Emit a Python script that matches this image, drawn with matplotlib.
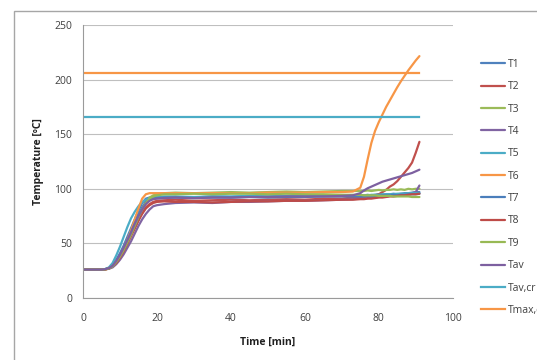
import matplotlib
matplotlib.use("Agg")
import matplotlib.pyplot as plt
from matplotlib.patches import Rectangle

# time grid [min]
time = [0, 5, 6, 7, 8, 9, 10, 11, 12, 13, 14, 15, 16, 17, 18, 19, 20,
        22, 25, 30, 35, 40, 45, 50, 55, 60, 65, 70, 73,
        75, 76, 77, 78, 79, 80, 81, 82, 83, 84, 85, 86, 87, 88, 89, 90, 91]

T1 = [26, 26, 26.5, 27.5, 30, 35, 41, 48, 56, 64, 72, 80, 87, 91, 92, 92, 92,
      92, 92.5, 92, 93, 92.5, 93, 93, 93.5, 93, 94, 94, 94,
      94, 94, 94.5, 94, 94.5, 95, 94.5, 95, 95, 95.5, 95, 95.5, 96, 96, 96.5, 97, 97]
T2 = [26, 26, 26.3, 27, 29, 33, 38, 44, 50, 57, 64, 71, 78, 83, 86, 88, 89,
      89.5, 90, 89, 89.5, 90, 89.5, 90, 90.5, 90, 91, 91, 92,
      92, 92.5, 93, 93.5, 94, 95, 97, 99, 102, 104, 107, 111, 115, 119, 124, 133, 143]
T3 = [26, 26, 26.3, 27, 29, 33, 38, 44, 51, 59, 67, 75, 82, 88, 92, 94, 95,
      96, 96.5, 96, 96.5, 97, 96.5, 97, 97.5, 97, 97.5, 98, 98,
      98, 98, 98.5, 98, 98.5, 99, 98.5, 99, 99, 99.5, 99, 99.5, 99, 100, 99.5, 100, 100]
T4 = [26, 26, 26.2, 26.8, 28, 31, 35, 40, 46, 52, 59, 66, 72, 77, 81, 84, 85,
      86, 87, 87.5, 87, 88, 88, 88.5, 89, 89, 89.5, 90, 90.5,
      91, 91, 91.5, 92, 92, 92.5, 93, 93, 93.5, 94, 94, 94.5, 95, 95.5, 96, 97, 103]
T5 = [26, 26, 26.5, 28, 32, 39, 47, 56, 65, 73, 79, 84, 88, 90, 91, 92, 92.5,
      93, 93, 92.5, 93, 93, 93.5, 93, 93.5, 93.5, 93.5, 94, 94,
      94, 94, 94, 94.5, 94.5, 94.5, 95, 95, 95, 95, 95.5, 95.5, 95.5, 96, 96, 96, 96]
T6 = [26, 26, 26, 27, 29, 33, 38, 45, 53, 62, 72, 82, 91, 95, 96, 96, 96,
      96, 96, 96, 96, 96, 96, 96.5, 96.5, 96.5, 97, 97, 97.5,
      101, 111, 127, 142, 153, 161, 168, 175, 181, 187, 193, 198.5, 203.5, 208.5, 213, 217.5, 221.5]
T7 = [26, 26, 26.4, 27.3, 29, 33, 38, 45, 52, 60, 68, 76, 83, 88, 90, 91, 91.5,
      92, 92, 91.5, 92, 92, 92.5, 92, 92.5, 92.5, 93, 93, 93,
      93, 93, 93.5, 93, 93.5, 93.5, 94, 94, 94, 94.5, 94, 94.5, 94.5, 95, 95, 95, 95.5]
T8 = [26, 26, 26.3, 27, 29, 32, 37, 43, 50, 57, 64, 71, 77, 82, 85, 87, 88,
      88.5, 88, 88, 87.5, 88, 88.5, 88.5, 89, 89, 89.5, 90, 90,
      90.5, 90.5, 91, 91, 91.5, 92, 92, 92.5, 93, 93, 93.5, 94, 94, 94.5, 95, 95, 95.5]
T9 = [26, 26, 26.3, 27, 29, 33, 38, 44, 51, 58, 66, 74, 81, 87, 91, 93, 94,
      95, 95, 95.5, 95, 95.5, 95.5, 95, 95.5, 95, 95, 94.5, 94.5,
      94.5, 94, 94, 94, 94, 93.5, 93.5, 93.5, 93.5, 93, 93, 93, 93, 93, 92.5, 92.5, 92.5]
Tav = [26, 26, 26.4, 27.3, 29.5, 34, 39.5, 46, 53, 60, 68, 75, 81, 86, 89, 90.5, 91,
       91.5, 92, 91.5, 92, 92, 92.5, 92.5, 93, 93, 93, 93.5, 94,
       96, 98.5, 100.5, 102, 103.5, 105, 106.5, 107.5, 108.5, 109.5, 110.5, 111.5,
       112.5, 113.5, 114.5, 116, 117.5]

crit_time = [0, 91]
Tav_cr = [166, 166]
Tmax_cr = [206, 206]

series_names = ["T1", "T2", "T3", "T4", "T5", "T6", "T7", "T8", "T9", "Tav"]
series_vals = [T1, T2, T3, T4, T5, T6, T7, T8, T9, Tav]
series_colors = ["#4F81BD", "#C0504D", "#9BBB59", "#8064A2", "#4BACC6", "#F79646",
                 "#4A7EBB", "#BE4B48", "#98B954", "#7D60A0"]

x_ticks = [0, 20, 40, 60, 80, 100]
y_ticks = [0, 50, 100, 150, 200, 250]

W, H = 537, 360
fig = plt.figure(figsize=(W / 100, H / 100), dpi=100)
plt.rcParams['font.family'] = ['Open Sans', 'DejaVu Sans']

# outer chart frame
fig.patches.append(Rectangle((14 / W, -0.1), 1.2, 1.1 - 11 / H,
                             transform=fig.transFigure, fill=False,
                             edgecolor="#a6a6a6", linewidth=1.0))

ax = fig.add_axes([83 / W, 1 - 298 / H, (452.7 - 83) / W, (298 - 25) / H])

for name, vals, col in zip(series_names, series_vals, series_colors):
    ax.plot(time, vals, color=col, lw=1.6, label=name, solid_capstyle='round')
ax.plot(crit_time, Tav_cr, color="#4BACC6", lw=1.6, label="Tav,cr")
ax.plot(crit_time, Tmax_cr, color="#F79646", lw=1.6, label="Tmax,cr")

ax.set_xlim(0, 100)
ax.set_ylim(0, 250)
ax.set_xticks(x_ticks)
ax.set_yticks(y_ticks)
ax.grid(axis='y', color="#bfbfbf", lw=0.8)
ax.set_axisbelow(True)
for s in ["top", "right"]:
    ax.spines[s].set_visible(False)
for s in ["left", "bottom"]:
    ax.spines[s].set_color("#9a9a9a")
    ax.spines[s].set_linewidth(0.8)
ax.tick_params(length=0, labelsize=7.5, colors="#404040", pad=8)
ax.tick_params(axis='x', pad=11)

ax.set_xlabel("Time [min]", fontsize=7.5, fontweight='bold', color="#202020")
ax.set_ylabel("Temperature [ºC]", fontsize=7.5, fontweight='bold', color="#202020")
ax.xaxis.set_label_coords((268 - 83) / (452.7 - 83), (298 - 337) / (298 - 25))
ax.yaxis.set_label_coords((44 - 83) / (452.7 - 83), 0.5)

leg = ax.legend(loc='upper left', bbox_to_anchor=(481 / W, 1 - 59 / H),
                bbox_transform=fig.transFigure, frameon=False, fontsize=7.5,
                handlelength=2.35, handletextpad=0.2, labelspacing=1.09,
                borderaxespad=0, borderpad=0)
for t in leg.get_texts():
    t.set_color("#404040")

fig.savefig("out.png", dpi=100)
